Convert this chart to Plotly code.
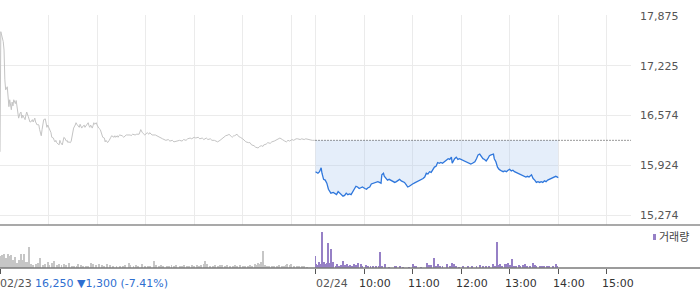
import plotly.graph_objects as go

# ---------------- data ----------------
SESSION_MIN = 390          # 09:00 - 15:30
prev_close = 16250

# 02/23 : (minutes after 09:00, price)
day1_ticks = [
    (0,16100),(1,17670),(4,17540),(5,17430),(6,17040),(7,16910),(9,16950),(10,16840),(11,16690),(12,16780),
    (14,16650),(15,16750),(16,16700),(17,16780),(19,16730),(20,16770),(21,16690),(22,16650),(23,16540),(25,16610),
    (26,16620),(27,16540),(28,16580),(30,16540),(31,16520),(32,16580),(33,16620),(35,16560),(36,16520),(37,16490),
    (38,16490),(40,16520),(41,16490),(42,16520),(43,16540),(44,16490),(46,16450),(47,16460),(48,16450),(49,16390),
    (51,16310),(52,16390),(53,16450),(54,16520),(56,16530),(57,16480),(58,16420),(59,16450),(61,16410),(62,16390),
    (63,16350),(64,16290),(66,16280),(67,16250),(68,16230),(69,16250),(70,16220),(72,16200),(73,16190),(74,16250),
    (75,16220),(77,16190),(78,16250),(79,16290),(80,16280),(82,16240),(83,16250),(84,16220),(85,16230),(87,16220),
    (88,16240),(89,16290),(90,16360),(91,16410),(93,16450),(94,16480),(95,16460),(96,16450),(98,16420),(99,16460),
    (100,16440),(101,16410),(103,16440),(104,16450),(105,16420),(106,16440),(108,16460),(109,16480),(110,16440),(111,16420),
    (112,16450),(114,16410),(115,16440),(116,16480),(117,16460),(119,16480),(120,16450),(121,16420),(122,16410),(124,16390),
    (125,16360),(126,16320),(127,16290),(129,16280),(130,16230),(131,16250),(132,16240),(133,16220),(135,16250),(136,16280),
    (137,16290),(138,16310),(140,16290),(141,16290),(142,16310),(143,16290),(145,16310),(146,16290),(147,16310),(148,16320),
    (151,16310),(153,16290),(156,16320),(158,16320),(161,16320),(162,16310),(164,16330),(167,16320),(169,16330),(172,16330),
    (173,16350),(174,16390),(176,16350),(178,16330),(179,16320),(182,16350),(184,16330),(185,16350),(188,16320),(192,16320),
    (195,16300),(198,16280),(201,16270),(205,16250),(208,16260),(210,16240),(213,16250),(215,16230),(218,16240),(220,16240),
    (222,16250),(225,16240),(227,16260),(230,16250),(232,16270),(235,16280),(237,16270),(240,16290),(242,16280),(245,16290),
    (247,16270),(250,16280),(252,16260),(255,16280),(257,16260),(260,16270),(262,16250),(265,16250),(267,16240),(269,16230),
    (272,16250),(274,16270),(277,16290),(279,16310),(282,16320),(283,16330),(286,16300),(287,16290),(289,16310),(290,16310),
    (293,16330),(295,16300),(297,16290),(299,16280),(300,16270),(303,16240),(304,16230),(307,16220),(309,16220),(311,16190),
    (314,16180),(316,16160),(319,16150),(321,16170),(323,16180),(325,16170),(326,16190),(329,16200),(331,16220),(334,16210),
    (336,16230),(339,16240),(341,16250),(344,16270),(346,16280),(349,16260),(350,16250),(352,16240),(354,16230),(356,16250),
    (358,16240),(361,16260),(363,16250),(366,16270),(368,16270),(371,16260),(373,16270),(376,16260),(378,16270),(381,16260),
    (383,16260),(386,16250),(389,16250),
]

# 02/24 : (minutes after 09:00, price)
day2_ticks = [
    (0,15840),(3,15820),(5,15840),(7,15890),(8,15820),(10,15740),(12,15730),(14,15690),(16,15610),(18,15570),
    (19,15560),(22,15570),(26,15540),(28,15580),(30,15560),(32,15540),(34,15520),(36,15530),(38,15560),(40,15540),
    (42,15550),(44,15540),(46,15580),(48,15600),(50,15650),(52,15640),(54,15620),(56,15630),(58,15640),(61,15620),
    (63,15610),(65,15630),(67,15640),(69,15680),(71,15690),(73,15700),(75,15700),(77,15710),(79,15700),(81,15690),
    (82,15800),(84,15820),(85,15780),(87,15750),(89,15730),(91,15740),(94,15720),(96,15710),(98,15700),(100,15710),
    (102,15730),(104,15740),(106,15720),(108,15710),(110,15700),(112,15670),(114,15640),(116,15650),(118,15670),(120,15680),
    (122,15690),(124,15700),(126,15710),(129,15730),(131,15740),(133,15750),(135,15770),(137,15820),(139,15810),(141,15840),
    (143,15830),(145,15870),(147,15900),(149,15910),(151,15960),(153,15950),(155,15960),(157,15950),(159,15970),(162,16000),
    (164,16010),(166,16000),(168,16030),(169,15950),(171,16000),(172,16010),(174,16030),(176,16000),(178,16010),(180,16000),
    (182,15990),(184,15990),(186,15980),(188,15970),(190,15950),(192,15940),(194,15950),(197,15970),(199,16010),(201,16060),
    (203,16070),(205,16040),(207,16010),(209,16000),(211,15980),(213,16010),(215,16050),(217,16060),(220,16070),(221,16010),
    (223,15970),(225,15900),(227,15870),(230,15850),(232,15840),(234,15850),(236,15840),(238,15860),(240,15870),(242,15850),
    (244,15860),(246,15840),(248,15830),(250,15820),(252,15820),(254,15810),(256,15800),(258,15780),(260,15770),(262,15780),
    (264,15770),(267,15800),(269,15750),(271,15730),(273,15700),(275,15710),(277,15700),(279,15710),(281,15700),(283,15720),
    (285,15710),(287,15730),(289,15740),(291,15750),(293,15760),(295,15770),(297,15780),(299,15770),(300,15760),
]

# volume (shares) : (minutes after 09:00, volume)
day1_volume = [
    (1,12000),(3,13000),(5,14000),(7,10000),(10,14000),(12,12000),(14,13000),(16,8000),(19,11000),(21,5000),
    (23,8000),(26,14000),(28,8000),(30,14000),(32,6000),(34,6000),(36,21000),(38,4000),(41,3000),(44,4000),
    (47,5000),(50,10000),(53,3000),(56,4000),(59,6000),(61,3000),(64,5000),(67,7000),(70,3000),(73,4000),
    (76,3000),(79,4000),(82,3000),(85,5000),(89,2000),(91,2000),(95,2000),(97,4000),(100,3000),(103,2000),
    (106,2000),(109,2000),(112,5000),(115,4000),(119,3000),(122,4000),(126,3000),(129,2000),(132,4000),(136,3000),
    (140,2000),(144,2000),(148,2000),(152,2000),(155,3000),(159,5000),(161,3000),(165,2000),(168,3000),(171,2000),
    (175,4000),(179,2000),(183,2000),(186,2000),(190,7000),(193,3000),(196,2000),(199,3000),(202,2000),(206,2000),
    (209,2000),(212,3000),(215,2000),(218,3000),(222,2000),(225,2000),(227,3000),(231,2000),(234,2000),(237,3000),
    (240,2000),(243,3000),(246,2000),(249,3000),(252,4000),(254,7000),(256,4000),(260,2000),(263,2000),(266,3000),
    (269,2000),(272,3000),(275,3000),(278,2000),(281,3000),(284,2000),(288,2000),(290,3000),(293,2000),(297,3000),
    (300,2000),(303,2000),(306,2000),(309,3000),(312,2000),(315,4000),(317,3000),(319,5000),(321,4000),(323,6000),
    (325,17000),(328,3000),(330,2000),(333,2000),(336,2000),(339,2000),(342,2000),(345,3000),(348,2000),(351,2000),
    (353,3000),(355,4000),(358,3000),(360,4000),(363,2000),(367,2000),(370,2000),(373,2000),(376,2000),(379,1000),
]
day2_volume = [
    (0,12000),(1,4000),(3,3000),(4,6000),(6,4000),(8,36000),(9,5000),(10,6000),(12,4000),(14,5000),
    (15,25000),(16,4000),(18,5000),(19,19000),(20,4000),(22,6000),(25,2000),(26,4000),(28,2000),(30,2000),
    (32,3000),(34,7000),(36,3000),(39,4000),(41,2000),(43,3000),(45,2000),(48,4000),(50,3000),(53,5000),
    (56,4000),(58,2000),(62,3000),(65,2000),(68,2000),(71,2000),(75,2000),(78,2000),(80,16000),(82,2000),
    (86,4000),(91,1000),(98,2000),(100,2000),(104,2000),(108,1000),(115,1000),(120,4000),(122,2000),(124,2000),
    (131,1000),(138,5000),(140,3000),(143,3000),(146,10000),(149,2000),(151,4000),(154,2000),(157,2000),(162,4000),
    (166,2000),(169,5000),(171,4000),(174,2000),(177,1000),(182,2000),(188,2000),(194,2000),(199,2000),(203,3000),
    (207,2000),(211,2000),(215,2000),(220,4000),(222,2000),(224,26000),(226,3000),(228,4000),(231,2000),(234,4000),
    (236,4000),(238,5000),(240,3000),(243,9000),(245,2000),(248,2000),(251,3000),(253,2000),(256,3000),(259,4000),
    (262,2000),(265,2000),(269,5000),(271,3000),(273,2000),(277,2000),(280,2000),(283,2000),(286,2000),(289,2000),
    (293,2000),(297,4000),(299,2000),
]

price_ticks = [15274, 15924, 16574, 17225, 17875]
price_tick_text = ["15,274", "15,924", "16,574", "17,225", "17,875"]
date_labels = ["02/23", "02/24"]
hour_minutes = [60, 120, 180, 240, 300, 360]
hour_labels = ["10:00", "11:00", "12:00", "13:00", "14:00", "15:00"]
summary_price = "16,250"
summary_change = "▼1,300 (-7.41%)"
volume_label = "거래량"

# ---------------- styling ----------------
W, H = 700, 289
ML, MR, MT, MB = 0, 69, 15, 21
PLOT_W = W - ML - MR
PLOT_H = H - MT - MB
SEP_PX = 225                      # separator between price and volume panels
price_bottom = (H - MB - SEP_PX) / PLOT_H
vol_top = (H - MB - 226) / PLOT_H
PX_PER_PRICE = 199 / (17875 - 15274)
price_lo = 15274 - (SEP_PX - 215) / PX_PER_PRICE
price_hi = 17875 + (16 - MT) / PX_PER_PRICE

FONT = "DejaVu Sans, Noto Sans CJK KR, sans-serif"
GRID = "#ebebeb"

d1x = [t for t, _ in day1_ticks]
d1y = [p for _, p in day1_ticks]
d2x = [SESSION_MIN + t for t, _ in day2_ticks]
d2y = [p for _, p in day2_ticks]
v1x = [t for t, _ in day1_volume]
v1y = [v for _, v in day1_volume]
v2x = [SESSION_MIN + t for t, _ in day2_volume]
v2y = [v for _, v in day2_volume]

fig = go.Figure()
fig.add_trace(go.Scatter(x=d1x, y=d1y, mode="lines", line=dict(color="#c4c4c4", width=1),
                         hoverinfo="skip", xaxis="x", yaxis="y"))
fig.add_trace(go.Scatter(x=d2x, y=[prev_close] * len(d2x), mode="lines", line=dict(width=0, color="rgba(0,0,0,0)"),
                         hoverinfo="skip", xaxis="x", yaxis="y"))
fig.add_trace(go.Scatter(x=d2x, y=d2y, mode="lines", line=dict(color="#2f77dc", width=1.3),
                         fill="tonexty", fillcolor="rgba(175,202,240,0.33)", xaxis="x", yaxis="y"))
fig.add_trace(go.Bar(x=v1x, y=v1y, width=1.2, marker=dict(color="#c6c6c6", line=dict(width=0)),
                     xaxis="x2", yaxis="y2"))
fig.add_trace(go.Bar(x=v2x, y=v2y, width=1.2, marker=dict(color="#9680c6", line=dict(width=0)),
                     xaxis="x2", yaxis="y2"))

grid_x = hour_minutes + [SESSION_MIN] + [SESSION_MIN + m for m in hour_minutes]
tick_x = [0, SESSION_MIN] + [SESSION_MIN + m for m in hour_minutes]

fig.update_layout(
    width=W, height=H, margin=dict(l=ML, r=MR, t=MT, b=MB),
    paper_bgcolor="white", plot_bgcolor="white", showlegend=False, bargap=0,
    font=dict(family=FONT, size=11, color="#555555"),
    xaxis=dict(domain=[0, 1], range=[0, 2 * SESSION_MIN], anchor="y", tickvals=grid_x,
               showgrid=True, gridcolor=GRID, gridwidth=1, showticklabels=False, ticks="",
               zeroline=False, showline=False),
    yaxis=dict(domain=[price_bottom, 1], range=[price_lo, price_hi], side="right",
               tickvals=price_ticks, ticktext=price_tick_text, showgrid=True, gridcolor=GRID,
               zeroline=False, showline=False, ticks="", ticklabelstandoff=8,
               tickfont=dict(size=11, color="#555555")),
    xaxis2=dict(domain=[0, 1], range=[0, 2 * SESSION_MIN], anchor="y2", tickvals=tick_x,
                showgrid=False, showticklabels=False, ticks="outside", ticklen=5,
                tickcolor="#555555", tickwidth=1, zeroline=False, showline=False),
    yaxis2=dict(domain=[0, vol_top], range=[0, 42000], showgrid=False, showticklabels=False,
                zeroline=False, showline=False, ticks=""),
)

xr = W / PLOT_W
fig.add_shape(type="line", xref="x", yref="y", x0=SESSION_MIN, x1=2 * SESSION_MIN,
              y0=prev_close, y1=prev_close, line=dict(color="#333333", width=1, dash="1px,2px"))
fig.add_shape(type="line", xref="paper", yref="paper", x0=0, x1=xr, y0=price_bottom, y1=price_bottom,
              line=dict(color="#8c8c8c", width=1.5))
fig.add_shape(type="line", xref="paper", yref="paper", x0=0, x1=xr, y0=0, y1=0,
              line=dict(color="#7a7a7a", width=1.5))
# legend marker
fig.add_shape(type="rect", xref="paper", yref="paper",
              x0=653 / PLOT_W, x1=656 / PLOT_W,
              y0=(H - MB - 240) / PLOT_H, y1=(H - MB - 234) / PLOT_H,
              line=dict(width=0), fillcolor="#9680c6")
fig.add_annotation(x=657 / PLOT_W, y=(H - MB - 237) / PLOT_H, xref="paper", yref="paper",
                   text=volume_label, showarrow=False, xanchor="left", yanchor="middle",
                   font=dict(size=11, color="#444444"))

label_y_shift = -15
fig.add_annotation(x=0, y=0, xref="x2", yref="paper", text=date_labels[0], showarrow=False,
                   xanchor="left", yanchor="middle", yshift=label_y_shift, xshift=-2,
                   font=dict(size=11, color="#555555"))
fig.add_annotation(x=33 / PLOT_W, y=0, xref="paper", yref="paper",
                   text=summary_price + " " + summary_change, showarrow=False,
                   xanchor="left", yanchor="middle", yshift=label_y_shift,
                   font=dict(size=11, color="#2f6fd0"))
fig.add_annotation(x=SESSION_MIN, y=0, xref="x2", yref="paper", text=date_labels[1], showarrow=False,
                   xanchor="left", yanchor="middle", yshift=label_y_shift, xshift=-2,
                   font=dict(size=11, color="#555555"))
for m, lab in zip(hour_minutes, hour_labels):
    fig.add_annotation(x=SESSION_MIN + m, y=0, xref="x2", yref="paper", text=lab, showarrow=False,
                       xanchor="left", yanchor="middle", yshift=label_y_shift, xshift=-7,
                       font=dict(size=11, color="#333333"))

fig.write_html("out.html")
